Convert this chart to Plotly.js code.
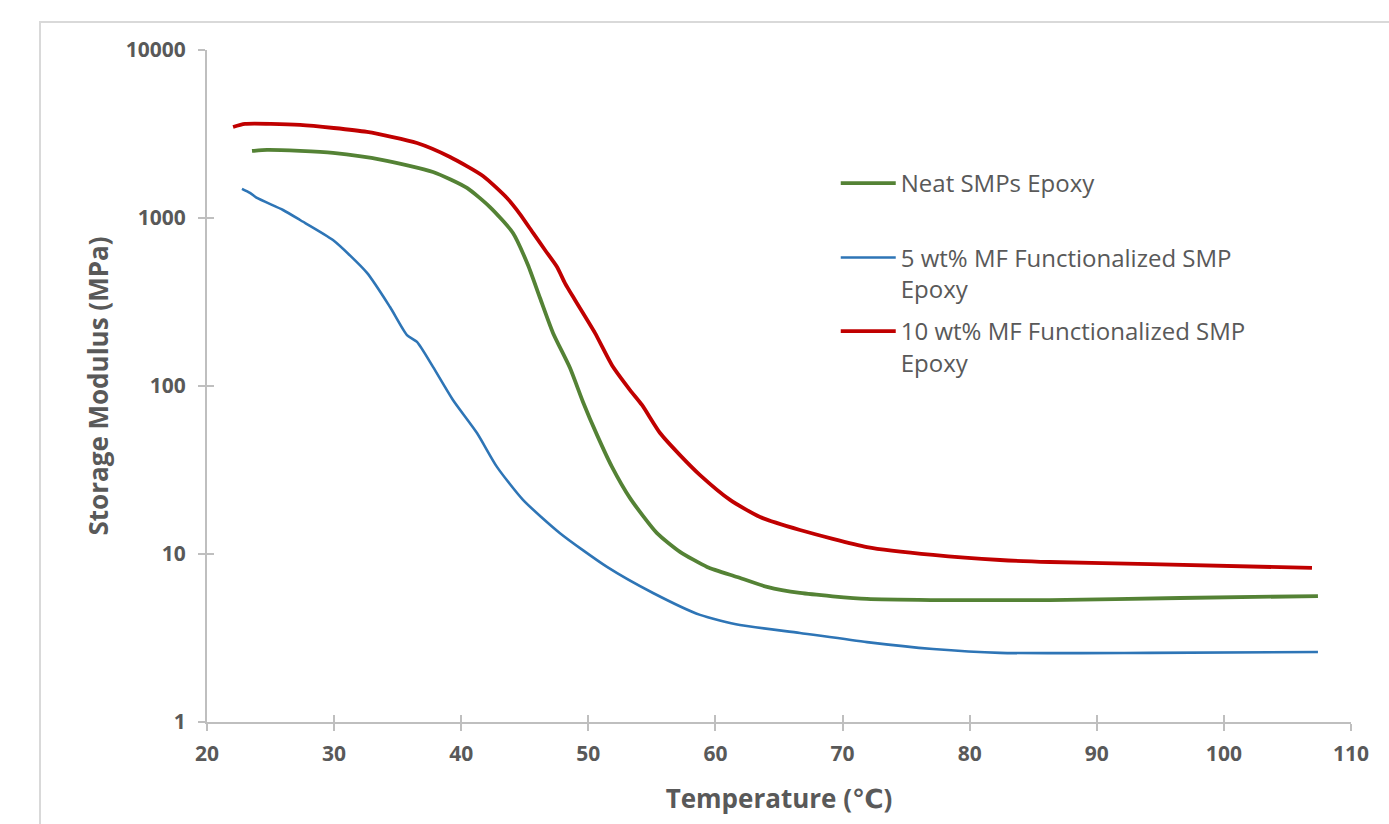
<!DOCTYPE html>
<html><head><meta charset="utf-8">
<script src="https://cdn.plot.ly/plotly-3.0.1.min.js"></script>
<style>
html,body{margin:0;padding:0;background:#fff;overflow:hidden;width:1389px;height:824px;position:relative}
#frame{position:absolute;left:39px;top:21px;width:1420px;height:860px;border:2px solid #d9d9d9;box-sizing:border-box}
#chart{position:absolute;left:41px;top:23px;width:1360px;height:820px}
</style></head>
<body><div id="frame"></div><div id="chart"></div>
<script>
// Temperature (°C) and storage modulus (MPa)
const neatT = [23.54, 24.72, 27.32, 29.91, 33.85, 37.78, 40.45, 42.26, 44.07, 45.25, 46.20, 47.22, 48.56, 49.58, 50.69, 51.86, 53.28, 55.40, 57.21, 59.34, 61.70, 64.06, 66.65, 71.92, 77.12, 86.32, 96.55, 107.40];
const neatE = [2506, 2542, 2506, 2438, 2213, 1879, 1510, 1161, 815, 525, 334, 207, 128, 80.4, 51.0, 33.0, 21.5, 13.3, 10.3, 8.38, 7.30, 6.37, 5.86, 5.40, 5.32, 5.32, 5.47, 5.62];

const mf5T = [22.75, 23.38, 23.93, 25.98, 27.32, 29.91, 32.59, 34.40, 35.73, 36.52, 37.78, 39.35, 41.24, 42.81, 44.86, 47.77, 51.47, 55.09, 58.79, 61.93, 66.65, 71.92, 77.12, 82.39, 94.19, 107.40];
const mf5E = [1490, 1410, 1316, 1116, 973, 739, 471, 295, 201, 183, 130, 82.6, 52.5, 33.0, 21.0, 13.3, 8.38, 5.86, 4.34, 3.78, 3.39, 2.99, 2.72, 2.58, 2.58, 2.61];

const mf10T = [22.05, 22.99, 27.32, 32.59, 36.52, 39.12, 41.71, 43.60, 44.62, 45.65, 46.59, 47.54, 48.16, 48.95, 50.52, 51.86, 53.28, 54.22, 55.64, 57.21, 58.79, 61.15, 63.51, 66.65, 71.92, 77.12, 82.39, 86.32, 94.19, 106.93];
const mf10E = [3483, 3631, 3580, 3251, 2793, 2307, 1778, 1315, 1056, 815, 645, 511, 410, 325, 207, 133, 94.6, 77.1, 52.5, 38.8, 29.5, 21.0, 16.6, 13.9, 11.0, 9.87, 9.21, 8.96, 8.71, 8.26];

const seriesNames = ["Neat SMPs Epoxy", "5 wt% MF Functionalized SMP<br>Epoxy", "10 wt% MF Functionalized SMP<br>Epoxy"];
const xTicks = [20, 30, 40, 50, 60, 70, 80, 90, 100, 110];
const yTicks = [1, 10, 100, 1000, 10000];
const yTickText = ["1", "10", "100", "1000", "10000"];

const gray = '#595959';
const axisCol = '#bfbfbf';
const fontFam = '"Open Sans", "DejaVu Sans", sans-serif';

const traces = [
  {x: neatT, y: neatE, name: seriesNames[0], mode: 'lines', line: {color: '#548235', width: 3.8, shape: 'spline', smoothing: 0.6}, legend: 'legend'},
  {x: mf5T, y: mf5E, name: seriesNames[1], mode: 'lines', line: {color: '#2e75b6', width: 2.6, shape: 'spline', smoothing: 0.6}, legend: 'legend2'},
  {x: mf10T, y: mf10E, name: seriesNames[2], mode: 'lines', line: {color: '#c00000', width: 3.8, shape: 'spline', smoothing: 0.6}, legend: 'legend3'},
  {x: [], y: [], xaxis: 'x2', yaxis: 'y2', showlegend: false, hoverinfo: 'skip'}
];

const legBase = {
  x: 0.5496, xanchor: 'left', yanchor: 'top', bgcolor: 'rgba(0,0,0,0)', borderwidth: 0,
  font: {family: fontFam, size: 24, color: gray}, valign: 'top', itemwidth: 55, tracegroupgap: 0
};

const layout = {
  width: 1360, height: 820,
  margin: {l: 166, r: 50, t: 27, b: 121},
  paper_bgcolor: '#fff', plot_bgcolor: '#fff',
  font: {family: fontFam, color: gray},
  xaxis: {
    range: [20, 110], tickvals: xTicks, ticks: 'outside', ticklen: 7, tickwidth: 2, tickcolor: axisCol,
    showline: true, linecolor: axisCol, linewidth: 2, showgrid: false, zeroline: false, ticklabelstandoff: 5,
    tickfont: {family: fontFam, size: 21, color: gray, weight: 'bold'},
    title: {text: 'Temperature (℃)', font: {family: fontFam, size: 26, color: gray, weight: 'bold'}, standoff: 24}
  },
  yaxis: {
    type: 'log', range: [0, 4], tickvals: yTicks, ticktext: yTickText, ticks: 'outside', ticklen: 7, tickwidth: 2, tickcolor: axisCol,
    showline: true, linecolor: axisCol, linewidth: 2, showgrid: false, zeroline: false, ticklabelstandoff: 8,
    tickfont: {family: fontFam, size: 21, color: gray, weight: 'bold'},
    title: {text: 'Storage Modulus (MPa)', font: {family: fontFam, size: 26, color: gray, weight: 'bold'}, standoff: 10}
  },
  xaxis2: {overlaying: 'x', anchor: 'y', range: [20, 110], tickvals: xTicks, ticks: 'inside', ticklen: 7, tickwidth: 2, tickcolor: axisCol,
    showticklabels: false, showline: false, showgrid: false, zeroline: false},
  yaxis2: {overlaying: 'y', anchor: 'x', type: 'log', range: [0, 4], tickvals: yTicks, ticks: 'inside', ticklen: 7, tickwidth: 2, tickcolor: axisCol,
    showticklabels: false, showline: false, showgrid: false, zeroline: false},
  legend: Object.assign({}, legBase, {y: 0.8348}),
  legend2: Object.assign({}, legBase, {y: 0.7240}),
  legend3: Object.assign({}, legBase, {y: 0.6146}),
  showlegend: true
};

Plotly.newPlot('chart', traces, layout, {displayModeBar: false, staticPlot: true});
</script>
</body></html>
